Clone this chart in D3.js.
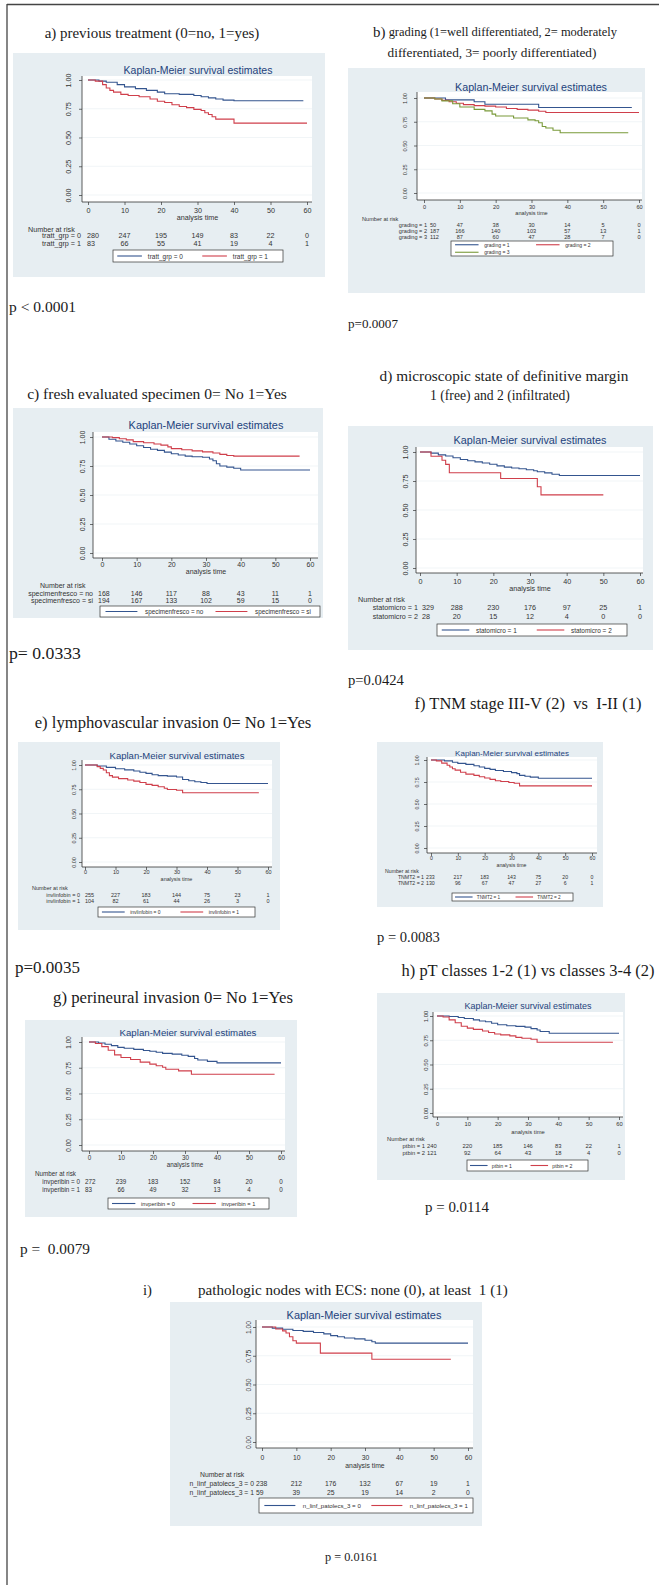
<!DOCTYPE html>
<html><head><meta charset="utf-8">
<script src="https://cdn.jsdelivr.net/npm/d3@7"></script>
<style>body{margin:0;background:#fff} svg{display:block}</style>
</head><body>
<svg id="c" width="659" height="1585"></svg>
<script>
// ---------- shared ticks ----------
const timeTicks = [0,10,20,30,40,50,60];
const survTicks = [0,0.25,0.5,0.75,1];
const survTickLabels = ["0.00","0.25","0.50","0.75","1.00"];

// ---------- a) previous treatment ----------
const aLabels = ["tratt_grp = 0","tratt_grp = 1"];
const aT0 = [0,3,5,8,10,13,16,19,21,25,29,31,33,35,37,40];
const aS0 = [1,0.99,0.98,0.96,0.94,0.925,0.91,0.895,0.88,0.875,0.865,0.855,0.845,0.835,0.825,0.82];
const aT1 = [0,2,4,5,6,7,9,11,14,17,19,21,23,25,27,29,31,32,33,34,35,40];
const aS1 = [1,0.99,0.96,0.93,0.91,0.895,0.875,0.865,0.855,0.835,0.815,0.805,0.785,0.77,0.76,0.745,0.735,0.715,0.70,0.68,0.66,0.625];
const aEnd = [59,60];
const aRisk0 = [280,247,195,149,83,22,0];
const aRisk1 = [83,66,55,41,19,4,1];

// ---------- b) grading ----------
const bLabels = ["grading = 1","grading = 2","grading = 3"];
const bT1 = [0,6,14,17,32];
const bS1 = [1,0.98,0.96,0.935,0.90];
const bT2 = [0,3,5,7,9,11,14,17,20,23,26,29,32,34];
const bS2 = [1,0.99,0.975,0.96,0.945,0.93,0.92,0.915,0.905,0.89,0.88,0.872,0.86,0.848];
const bT3 = [0,3,5,8,10,14,17,19,20,25,29,31,32,33,34,36,38];
const bS3 = [1,0.99,0.97,0.94,0.906,0.88,0.865,0.83,0.81,0.79,0.77,0.76,0.74,0.70,0.685,0.66,0.635];
const bEnd = [58,60,57];
const bRisk1 = [50,47,38,30,14,5,0];
const bRisk2 = [187,166,140,103,57,13,1];
const bRisk3 = [112,87,60,47,28,7,0];

// ---------- c) fresh evaluated specimen ----------
const cLabels = ["specimenfresco = no","specimenfresco = si"];
const cT0 = [0,2,4,6,8,10,12,14,16,18,20,22,24,26,29,31,32,33,34,36,38,40];
const cS0 = [1,0.98,0.965,0.955,0.94,0.925,0.91,0.895,0.885,0.87,0.855,0.845,0.835,0.83,0.825,0.81,0.795,0.77,0.75,0.74,0.73,0.715];
const cT1 = [0,3,5,7,9,12,15,17,19,20,23,26,29,32,34,36,38];
const cS1 = [1,0.995,0.985,0.975,0.96,0.95,0.94,0.93,0.915,0.90,0.89,0.88,0.872,0.862,0.85,0.84,0.835];
const cEnd = [60,57];
const cRisk0 = [168,146,117,88,43,11,1];
const cRisk1 = [194,167,133,102,59,15,0];

// ---------- d) margin ----------
const dLabels = ["statomicro = 1","statomicro = 2"];
const dT0 = [0,3,5,7,9,11,13,15,17,19,21,23,25,27,29,31,32,34,36,38];
const dS0 = [1,0.99,0.975,0.965,0.95,0.935,0.925,0.915,0.905,0.895,0.88,0.87,0.862,0.855,0.847,0.838,0.83,0.82,0.808,0.797];
const dT1 = [0,3,6,7,8,22,32,33];
const dS1 = [1,0.964,0.929,0.893,0.821,0.771,0.70,0.63];
const dEnd = [60,50];
const dRisk0 = [329,288,230,176,97,25,1];
const dRisk1 = [28,20,15,12,4,0,0];

// ---------- e) lymphovascular invasion ----------
const eLabels = ["invlinfobin = 0","invlinfobin = 1"];
const eT0 = [0,4,7,10,13,16,18,20,22,24,27,30,32,34,36,38,40];
const eS0 = [1,0.99,0.976,0.962,0.95,0.938,0.925,0.914,0.9,0.89,0.885,0.876,0.85,0.838,0.828,0.82,0.81];
const eT1 = [0,4,5,6,7,8,9,11,14,16,18,20,22,24,26,27,30,32];
const eS1 = [1,0.983,0.965,0.948,0.92,0.89,0.875,0.86,0.845,0.834,0.82,0.80,0.79,0.776,0.76,0.748,0.74,0.714];
const eEnd = [60,57];
const eRisk0 = [255,227,183,144,75,23,1];
const eRisk1 = [104,82,61,44,26,3,0];

// ---------- f) TNM stage ----------
const fLabels = ["TNMT2 = 1","TNMT2 = 2"];
const fT0 = [0,5,8,10,13,16,18,20,22,24,27,30,32,33,35,37,40];
const fS0 = [1,0.99,0.975,0.962,0.95,0.935,0.92,0.905,0.894,0.88,0.87,0.857,0.845,0.825,0.815,0.805,0.792];
const fT1 = [0,2,4,6,7,8,9,11,13,16,18,20,22,24,26,29,31,33];
const fS1 = [1,0.99,0.965,0.94,0.92,0.9,0.885,0.86,0.84,0.825,0.81,0.795,0.78,0.765,0.755,0.745,0.735,0.706];
const fEnd = [60,60];
const fRisk0 = [233,217,183,143,75,20,0];
const fRisk1 = [130,96,67,47,27,6,1];

// ---------- g) perineural invasion ----------
const gLabels = ["invperibin = 0","invperibin = 1"];
const gT0 = [0,3,5,7,9,11,14,17,19,21,23,26,29,31,33,34,37,40];
const gS0 = [1,0.99,0.978,0.965,0.948,0.94,0.928,0.918,0.91,0.9,0.89,0.882,0.872,0.86,0.84,0.825,0.812,0.797];
const gT1 = [0,2,4,6,8,10,13,16,19,21,23,24,28,32];
const gS1 = [1,0.985,0.955,0.92,0.875,0.85,0.83,0.805,0.785,0.77,0.755,0.735,0.72,0.687];
const gEnd = [60,58];
const gRisk0 = [272,239,183,152,84,20,0];
const gRisk1 = [83,66,49,32,13,4,0];

// ---------- h) pT classes ----------
const hLabels = ["ptbin = 1","ptbin = 2"];
const hT0 = [0,4,7,9,12,14,16,18,20,23,26,29,31,33,34,37];
const hS0 = [1,0.995,0.985,0.975,0.96,0.948,0.94,0.925,0.91,0.9,0.893,0.885,0.87,0.855,0.84,0.822];
const hT1 = [0,2,4,6,8,10,12,15,17,19,21,24,26,28,31,33];
const hS1 = [1,0.99,0.96,0.93,0.895,0.875,0.862,0.845,0.83,0.815,0.805,0.795,0.78,0.77,0.76,0.73];
const hEnd = [60,58];
const hRisk0 = [240,220,185,146,83,22,1];
const hRisk1 = [121,92,64,43,18,4,0];

// ---------- i) pathologic nodes with ECS ----------
const iLabels = ["n_linf_patolecs_3 = 0","n_linf_patolecs_3 = 1"];
const iT0 = [0,3,6,9,12,15,18,20,22,24,27,30,32,33];
const iS0 = [1,0.99,0.98,0.97,0.962,0.952,0.94,0.925,0.915,0.905,0.897,0.885,0.872,0.86];
const iT1 = [0,4,6,7,8,9,10,17,32];
const iS1 = [1,0.983,0.966,0.948,0.915,0.88,0.86,0.773,0.72];
const iEnd = [60,55];
const iRisk0 = [238,212,176,132,67,19,1];
const iRisk1 = [59,39,25,19,14,2,0];

// ---------- text ----------
const pValues = ["p < 0.0001","p=0.0007","p= 0.0333","p=0.0424","p=0.0035","p = 0.0083","p =  0.0079","p = 0.0114","p = 0.0161"];

// ---------- drawing ----------
const svg = d3.select("#c");
const SANS = "'Liberation Sans', Arial, sans-serif";
const SERIF = "'Liberation Serif', 'Times New Roman', serif";
const BG = "#e7eef2";
const COLORS = ["#34558f","#cf3f4b","#7a9a3a"];
const KMBLUE = "#23427c";

function fitText(sel, w) {
  const len = sel.node().getComputedTextLength();
  if (len > 0) sel.attr("font-size", parseFloat(sel.attr("font-size")) * w / len);
  return sel;
}
function serif(x, y, str, w, anchor, prefix) {
  const t = svg.append("text").attr("x", x).attr("y", y)
    .attr("font-family", SERIF).attr("font-size", 12).attr("fill", "#1b1b1b")
    .attr("dominant-baseline", "central").attr("text-anchor", anchor || "start")
    .style("white-space", "pre");
  if (prefix) {
    t.append("tspan").attr("font-size", "1.2em").text(prefix);
    t.append("tspan").text(str);
  } else t.text(str);
  return fitText(t, w);
}
function ser(ts, ss, ends) { return ts.map((t, i) => ({t, s: ss[i], end: ends[i]})); }

function drawPanel(P) {
  const L = P.L;
  const g = svg.append("g").attr("font-family", SANS);
  g.append("rect").attr("x", L.box[0]).attr("y", L.box[1])
    .attr("width", L.box[2] - L.box[0]).attr("height", L.box[3] - L.box[1]).attr("fill", BG);
  const [pl, pt, pr, pb] = L.plot;
  g.append("rect").attr("x", pl).attr("y", pt).attr("width", pr - pl).attr("height", pb - pt).attr("fill", "#fff");
  const x = d3.scaleLinear().domain([0, 60]).range(L.xr);
  const y = d3.scaleLinear().domain([0, 1]).range([L.yr[1], L.yr[0]]);
  g.selectAll("line.grid").data(survTicks).join("line").attr("class", "grid")
    .attr("x1", pl).attr("x2", pr).attr("y1", d => y(d)).attr("y2", d => y(d))
    .attr("stroke", "#edf2f5").attr("stroke-width", 0.8);
  const line = d3.line().x(d => x(d[0])).y(d => y(d[1])).curve(d3.curveStepAfter);
  P.series.forEach((s, i) => {
    const pts = s.t.map((t, j) => [t, s.s[j]]);
    pts.push([s.end, s.s[s.s.length - 1]]);
    g.append("path").attr("d", line(pts)).attr("fill", "none")
      .attr("stroke", COLORS[i]).attr("stroke-width", 1.1);
  });
  g.append("line").attr("x1", pl).attr("x2", pl).attr("y1", pt).attr("y2", pb).attr("stroke", "#333").attr("stroke-width", 0.8);
  g.append("line").attr("x1", pl).attr("x2", pr).attr("y1", pb).attr("y2", pb).attr("stroke", "#333").attr("stroke-width", 0.8);

  const ya = g.append("g").attr("transform", `translate(${pl},0)`)
    .call(d3.axisLeft(y).tickValues(survTicks).tickFormat((d, i) => survTickLabels[i]).tickSize(3));
  ya.attr("font-family", SANS).attr("font-size", L.fs);
  ya.select(".domain").remove();
  ya.selectAll(".tick line").attr("stroke", "#333").attr("stroke-width", 0.7);
  ya.selectAll(".tick text").attr("x", 0).attr("dy", null).attr("fill", "#333")
    .attr("text-anchor", "middle").attr("dominant-baseline", "central")
    .attr("transform", `translate(${L.ylabX - pl},0) rotate(-90)`);

  const xlab = L.xlab - 0.5;
  const at = Math.max(L.at + 0.5, xlab + L.fs * 1.02);
  const xa = g.append("g").attr("transform", `translate(0,${pb})`)
    .call(d3.axisBottom(x).tickValues(timeTicks).tickSize(3));
  xa.attr("font-family", SANS).attr("font-size", L.fs);
  xa.select(".domain").remove();
  xa.selectAll(".tick line").attr("stroke", "#333").attr("stroke-width", 0.7);
  xa.selectAll(".tick text").attr("y", xlab - pb).attr("dy", null).attr("fill", "#333")
    .attr("dominant-baseline", "central");

  const small = (sel) => sel.attr("font-size", L.fs).attr("fill", "#333").attr("dominant-baseline", "central");
  small(g.append("text").attr("x", x(30)).attr("y", at).attr("text-anchor", "middle").text("analysis time"));

  const km = g.append("text").attr("x", L.km[0]).attr("y", L.km[1]).attr("text-anchor", "middle")
    .attr("dominant-baseline", "central").attr("font-size", 10).attr("fill", KMBLUE)
    .text("Kaplan-Meier survival estimates");
  fitText(km, L.km[2]);

  small(g.append("text").attr("x", L.nar.tx).attr("y", L.nar.ty).text("Number at risk"));
  P.labels.forEach((lab, i) => {
    small(g.append("text").attr("x", L.nar.lr).attr("y", L.nar.rows[i]).attr("text-anchor", "end").text(lab));
    P.risk[i].forEach((v, j) => {
      small(g.append("text").attr("x", j === 0 ? L.nar.fx : x(timeTicks[j])).attr("y", L.nar.rows[i])
        .attr("text-anchor", j === 0 ? "start" : "middle").text(v));
    });
  });

  const [lx0, ly0, lx1, ly1] = L.leg;
  g.append("rect").attr("x", lx0).attr("y", ly0).attr("width", lx1 - lx0).attr("height", ly1 - ly0)
    .attr("fill", "#fff").attr("stroke", "#333").attr("stroke-width", 0.7);
  const n = P.labels.length, rows = Math.ceil(n / 2), cw = (lx1 - lx0) / 2, rh = (ly1 - ly0) / rows;
  P.labels.forEach((lab, i) => {
    const c = i % 2, r = Math.floor(i / 2), cx0 = lx0 + c * cw, cy = ly0 + rh * (r + 0.5);
    g.append("line").attr("x1", cx0 + cw * 0.05).attr("x2", cx0 + cw * 0.34).attr("y1", cy).attr("y2", cy)
      .attr("stroke", COLORS[i]).attr("stroke-width", 1.1);
    small(g.append("text").attr("x", cx0 + cw * 0.41).attr("y", cy).text(lab)).attr("font-size", L.fs * 0.9);
  });
}

const panels = [
  {labels: aLabels, series: ser([aT0, aT1], [aS0, aS1], aEnd), risk: [aRisk0, aRisk1],
   L: {box: [13,53,325,277], km: [198,70,149], plot: [82,76,312,202], xr: [88,307], yr: [80,195], ylabX: 68,
       xlab: 211, at: 216, fs: 7.2, nar: {tx: 28, ty: 229, lr: 81, fx: 87, rows: [235,243]}, leg: [113,250,283,262]}},
  {labels: bLabels, series: ser([bT1, bT2, bT3], [bS1, bS2, bS3], bEnd), risk: [bRisk1, bRisk2, bRisk3],
   L: {box: [348,68,645,293], km: [531,87,152], plot: [417,92,642,200], xr: [424,639], yr: [98,193], ylabX: 405,
       xlab: 207, at: 212, fs: 5.6, nar: {tx: 362, ty: 218.5, lr: 427, fx: 430, rows: [225,231,237]}, leg: [451,241,613,256]}},
  {labels: cLabels, series: ser([cT0, cT1], [cS0, cS1], cEnd), risk: [cRisk0, cRisk1],
   L: {box: [13,408,323,618], km: [206,425,155], plot: [93,432,318,558], xr: [102,310], yr: [437,553], ylabX: 82,
       xlab: 565, at: 570, fs: 7.0, nar: {tx: 40, ty: 585, lr: 93, fx: 98, rows: [593,600.5]}, leg: [100,606,320,617]}},
  {labels: dLabels, series: ser([dT0, dT1], [dS0, dS1], dEnd), risk: [dRisk0, dRisk1],
   L: {box: [348,426,653,650], km: [530,440,153], plot: [416,447,643,573], xr: [420,640], yr: [452,568], ylabX: 405,
       xlab: 582, at: 588, fs: 7.2, nar: {tx: 358, ty: 599, lr: 418, fx: 422, rows: [607,616]}, leg: [437,624,627,636]}},
  {labels: eLabels, series: ser([eT0, eT1], [eS0, eS1], eEnd), risk: [eRisk0, eRisk1],
   L: {box: [18,742,280,930], km: [177,755,135], plot: [82,760,272,867], xr: [85,268], yr: [765,862], ylabX: 74,
       xlab: 872, at: 878, fs: 5.5, nar: {tx: 32, ty: 888, lr: 80, fx: 85, rows: [895,901]}, leg: [98,907,255,917]}},
  {labels: fLabels, series: ser([fT0, fT1], [fS0, fS1], fEnd), risk: [fRisk0, fRisk1],
   L: {box: [377,742,603,907], km: [512,753,114], plot: [427,757,597,853], xr: [431,592], yr: [760,848], ylabX: 417,
       xlab: 858, at: 864, fs: 5.2, nar: {tx: 385, ty: 871, lr: 424, fx: 426, rows: [877,883]}, leg: [452,893,573,901]}},
  {labels: gLabels, series: ser([gT0, gT1], [gS0, gS1], gEnd), risk: [gRisk0, gRisk1],
   L: {box: [25,1020,297,1217], km: [188,1032,137], plot: [82,1037,285,1151], xr: [89,281], yr: [1042,1145], ylabX: 68,
       xlab: 1158, at: 1164, fs: 6.3, nar: {tx: 35, ty: 1173, lr: 80, fx: 85, rows: [1181,1189]}, leg: [108,1198,269,1209]}},
  {labels: hLabels, series: ser([hT0, hT1], [hS0, hS1], hEnd), risk: [hRisk0, hRisk1],
   L: {box: [377,993,625,1180], km: [528,1006,127], plot: [433,1012,623,1117], xr: [437,619], yr: [1016,1113], ylabX: 426,
       xlab: 1124, at: 1131, fs: 5.8, nar: {tx: 387, ty: 1139, lr: 425, fx: 427, rows: [1146,1152.5]}, leg: [467,1160,588,1171]}},
  {labels: iLabels, series: ser([iT0, iT1], [iS0, iS1], iEnd), risk: [iRisk0, iRisk1],
   L: {box: [170,1302,482,1526], km: [364,1315,155], plot: [256,1320,473,1448], xr: [262,468], yr: [1327,1442], ylabX: 248,
       xlab: 1458, at: 1465, fs: 6.8, nar: {tx: 200, ty: 1474, lr: 254, fx: 256, rows: [1483,1492]}, leg: [259,1498,473,1513]}}
];
panels.forEach(drawPanel);

// figure frame (left and top edges visible)
svg.append("line").attr("x1", 7).attr("x2", 7).attr("y1", 4).attr("y2", 1585).attr("stroke", "#444").attr("stroke-width", 1.3);
svg.append("line").attr("x1", 7).attr("x2", 659).attr("y1", 4.5).attr("y2", 4.5).attr("stroke", "#444").attr("stroke-width", 1.3);

// panel titles
serif(152, 33, "a) previous treatment (0=no, 1=yes)", 215, "middle");
serif(495, 32, " grading (1=well differentiated, 2= moderately", 244, "middle", "b)");
serif(492, 52, "differentiated, 3= poorly differentiated)", 209, "middle");
serif(157, 393, "c) fresh evaluated specimen 0= No 1=Yes", 260, "middle");
serif(504, 375, "d) microscopic state of definitive margin", 249, "middle");
serif(500, 395, "1 (free) and 2 (infiltrated)", 140, "middle");
serif(173, 722, "e) lymphovascular invasion 0= No 1=Yes", 277, "middle");
serif(528, 703, "f) TNM stage III-V (2)  vs  I-II (1)", 227, "middle");
serif(173, 997, "g) perineural invasion 0= No 1=Yes", 240, "middle");
serif(528, 970, "h) pT classes 1-2 (1) vs classes 3-4 (2)", 253, "middle");
serif(143, 1290, "i)", 9, "start");
serif(198, 1290, "pathologic nodes with ECS: none (0), at least  1 (1)", 310, "start");

// p-values
serif(9, 306, pValues[0], 67);
serif(348, 323, pValues[1], 50);
serif(9, 653, pValues[2], 72);
serif(348, 680, pValues[3], 56);
serif(15, 967, pValues[4], 65);
serif(377, 937, pValues[5], 63);
serif(20, 1248, pValues[6], 70);
serif(425, 1207, pValues[7], 64);
serif(325, 1557, pValues[8], 53);
</script>
</body></html>
